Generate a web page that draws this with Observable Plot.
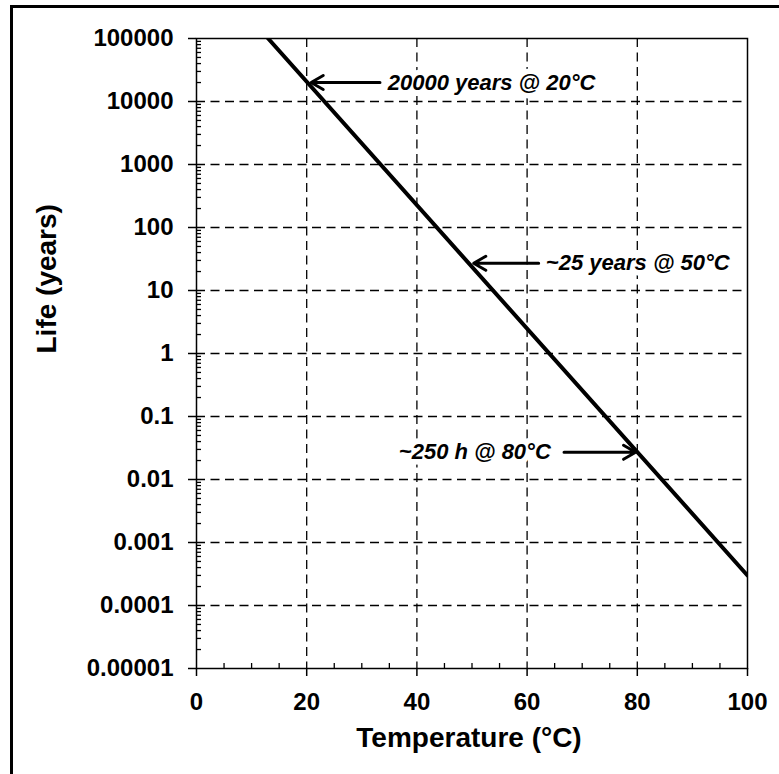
<!DOCTYPE html>
<html><head><meta charset="utf-8">
<script src="https://cdn.jsdelivr.net/npm/d3@7"></script>
<script src="https://cdn.jsdelivr.net/npm/@observablehq/plot@0.6"></script>
<style>
html,body{margin:0;padding:0;background:#fff;overflow:hidden;}
#wrap{position:relative;width:779px;height:774px;overflow:hidden;background:#fff;}
#border{position:absolute;left:10px;top:5px;width:800px;height:800px;border-left:3px solid #000;border-top:3px solid #000;}
#chart{position:absolute;left:0;top:0;}
</style></head><body>
<div id="wrap"><div id="chart"></div><div id="border"></div></div>
<script>
// Series: straight line on the log scale
const temperature = [13, 100];
const lifeYears = [100000, 0.0003];

// Axis ticks
const xTicks = [0, 20, 40, 60, 80, 100];
const xMinorTicks = [5, 10, 15, 25, 30, 35, 45, 50, 55, 65, 70, 75, 85, 90, 95];
const xGrid = [20, 40, 60, 80];
const yTicks = [1e-5, 1e-4, 1e-3, 1e-2, 1e-1, 1, 10, 100, 1000, 10000, 100000];
const yTickLabels = ["0.00001", "0.0001", "0.001", "0.01", "0.1", "1", "10", "100", "1000", "10000", "100000"];
const yGrid = [1e-4, 1e-3, 1e-2, 1e-1, 1, 10, 100, 1000, 10000];
const yMinorTicks = d3.range(-5, 5).flatMap(e => d3.range(2, 10).map(k => k * Math.pow(10, e)));

// Annotations (data coordinates)
const noteLabels = ["20000 years @ 20°C", "~25 years @ 50°C", "~250 h @ 80°C"];
const noteTipX = [20.8, 50.3, 79.7];
const noteTailX = [33.3, 62.1, 66.7];
const noteY = [20000, 27, 0.027];
const noteTextX = [34.7, 63.4, 64.3];
const noteAnchor = ["start", "start", "end"];

const series = temperature.map((t, i) => ({t, life: lifeYears[i]}));
const notes = noteLabels.map((label, i) => ({label, tip: noteTipX[i], tail: noteTailX[i], y: noteY[i], tx: noteTextX[i], anchor: noteAnchor[i]}));

const W = 779, H = 774, mL = 196, mR = 32, mT = 38, mB = 106;
const plotW = W - mL - mR, plotH = H - mT - mB;
const font = "'Liberation Sans', Arial, Helvetica, sans-serif";
const dash = "9,5.5";
const noteStyle = {x: "tx", y: "y", text: "label", lineAnchor: "middle", fontSize: 22, fontStyle: "italic", fontWeight: "bold",
  fill: "#000", stroke: "#fff", strokeWidth: 11, strokeLinejoin: "round", paintOrder: "stroke"};

const chart = Plot.plot({
  width: W, height: H,
  marginLeft: mL, marginRight: mR, marginTop: mT, marginBottom: mB,
  style: {fontFamily: font, fontWeight: "bold", color: "#000", background: "transparent", overflow: "visible"},
  x: {domain: [0, 100]},
  y: {type: "log", domain: [1e-5, 1e5]},
  marks: [
    Plot.ruleX(xGrid, {x: d => d, stroke: "#000", strokeWidth: 1.3, strokeDasharray: dash}),
    Plot.ruleY(yGrid, {y: d => d, stroke: "#000", strokeWidth: 1.3, strokeDasharray: dash}),
    Plot.tickX(xMinorTicks, {x: d => d, stroke: "#000", strokeWidth: 1.3, insetTop: plotH - 5}),
    Plot.tickY(yMinorTicks, {y: d => d, stroke: "#000", strokeWidth: 1.3, insetRight: plotW - 5}),
    Plot.frame({stroke: "#000", strokeWidth: 1.5}),
    Plot.line(series, {x: "t", y: "life", stroke: "#000", strokeWidth: 4, clip: true}),
    Plot.text(notes.filter(d => d.anchor === "start"), {...noteStyle, textAnchor: "start"}),
    Plot.text(notes.filter(d => d.anchor === "end"), {...noteStyle, textAnchor: "end"}),
    Plot.arrow(notes, {x1: "tail", y1: "y", x2: "tip", y2: "y", stroke: "#000", strokeWidth: 3, headLength: 7, headAngle: 60}),
    Plot.axisX({ticks: xTicks, tickSize: 8, tickPadding: 16, fontSize: 24, fontWeight: "bold", strokeWidth: 1.5, label: null, tickFormat: d => String(d), fill: "#000"}),
    Plot.axisY({ticks: yTicks, tickSize: 8, tickPadding: 15, fontSize: 24, fontWeight: "bold", strokeWidth: 1.5, label: null,
      tickFormat: d => yTickLabels[yTicks.findIndex(v => Math.abs(Math.log10(v) - Math.log10(d)) < 1e-9)], fill: "#000"}),
    Plot.text(["Temperature (°C)"], {text: d => d, frameAnchor: "bottom", dy: 59, dx: -3, lineAnchor: "top", fontSize: 28, fontWeight: "bold", fill: "#000"}),
    Plot.text(["Life (years)"], {text: d => d, frameAnchor: "left", dx: -149.5, rotate: -90, lineAnchor: "middle", fontSize: 28, fontWeight: "bold", fill: "#000"})
  ]
});
document.getElementById("chart").appendChild(chart);
</script>
</body></html>
